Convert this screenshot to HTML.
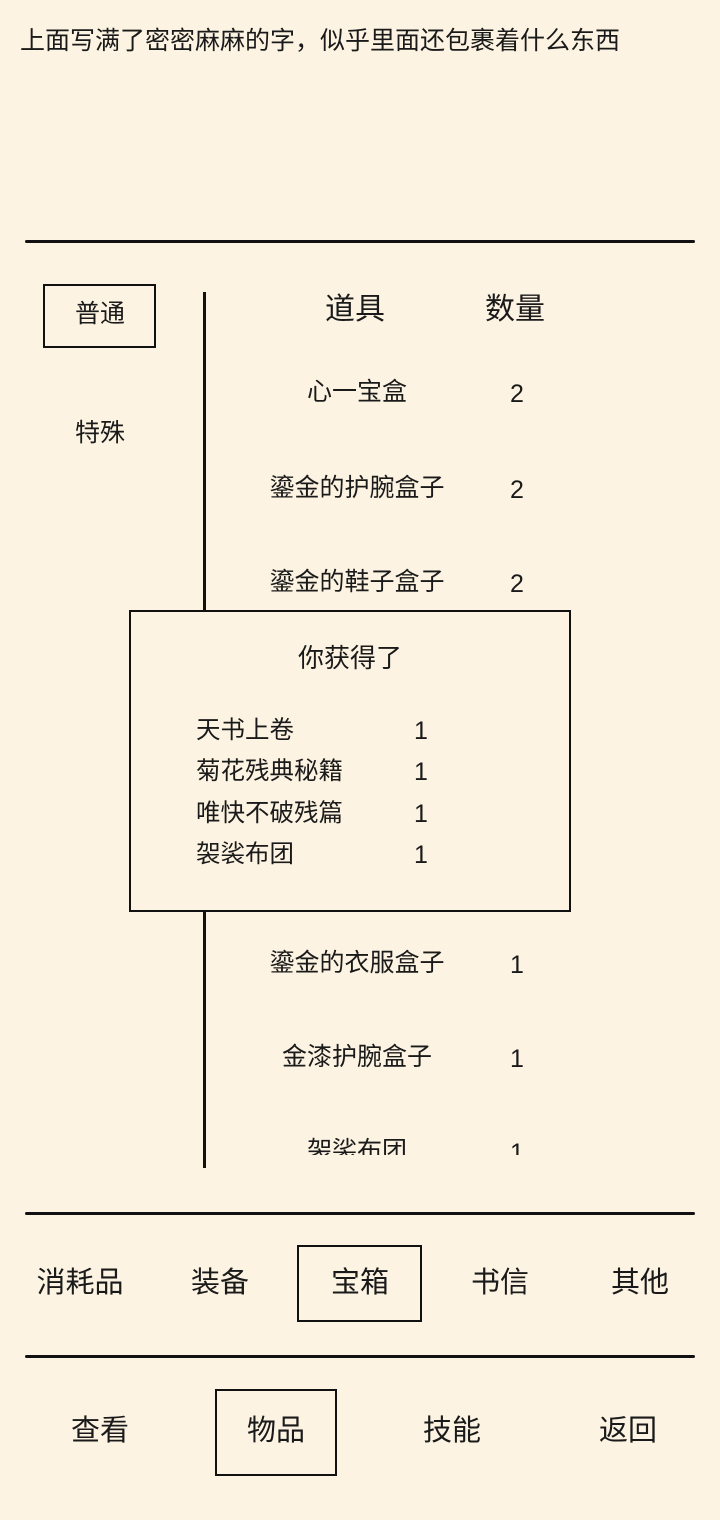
<!DOCTYPE html>
<html><head><meta charset="utf-8"><style>
body{margin:0;width:720px;height:1520px;background:#fcf3e2;position:relative;overflow:hidden;font-family:"Liberation Sans","Noto Sans CJK SC",sans-serif;color:#1a1a1a}
.t{position:absolute;white-space:nowrap;line-height:1}
.c{transform:translateX(-50%)}
.h{position:absolute;height:3px;background:#111;border-radius:2px}
.b{position:absolute;border:2.5px solid #111;box-sizing:border-box}
</style></head><body>
<div class="t" style="left:20px;top:29px;font-size:25px">上面写满了密密麻麻的字，似乎里面还包裹着什么东西</div>
<div class="h" style="left:25px;top:240px;width:670px"></div>
<div class="b" style="left:43px;top:284px;width:113px;height:64px"></div>
<div class="t c" style="left:100px;top:302px;font-size:25px">普通</div>
<div class="t c" style="left:100px;top:421px;font-size:25px">特殊</div>
<div style="position:absolute;left:203px;top:292px;width:2.5px;height:876px;background:#111"></div>
<div class="t c" style="left:355px;top:295px;font-size:30px">道具</div>
<div class="t c" style="left:515px;top:295px;font-size:30px">数量</div>
<div class="t c" style="left:357px;top:380px;font-size:25px">心一宝盒</div><div class="t c" style="left:517px;top:382px;font-size:25px">2</div>
<div class="t c" style="left:357px;top:476px;font-size:25px">鎏金的护腕盒子</div><div class="t c" style="left:517px;top:478px;font-size:25px">2</div>
<div class="t c" style="left:357px;top:570px;font-size:25px">鎏金的鞋子盒子</div><div class="t c" style="left:517px;top:572px;font-size:25px">2</div>
<div class="t c" style="left:357px;top:951px;font-size:25px">鎏金的衣服盒子</div><div class="t c" style="left:517px;top:953px;font-size:25px">1</div>
<div class="t c" style="left:357px;top:1045px;font-size:25px">金漆护腕盒子</div><div class="t c" style="left:517px;top:1047px;font-size:25px">1</div>
<div style="position:absolute;left:0;top:1130px;width:720px;height:25px;overflow:hidden">
<div class="t c" style="left:357px;top:9px;font-size:25px">袈裟布团</div><div class="t c" style="left:517px;top:11px;font-size:25px">1</div></div>
<div class="b" style="left:129px;top:610px;width:442px;height:302px;background:#fcf3e2"></div>
<div class="t c" style="left:350px;top:645px;font-size:26px">你获得了</div>
<div class="t" style="left:196px;top:719px;font-size:24.5px">天书上卷</div><div class="t" style="left:414px;top:719px;font-size:25px">1</div>
<div class="t" style="left:196px;top:760px;font-size:24.5px">菊花残典秘籍</div><div class="t" style="left:414px;top:760px;font-size:25px">1</div>
<div class="t" style="left:196px;top:802px;font-size:24.5px">唯快不破残篇</div><div class="t" style="left:414px;top:802px;font-size:25px">1</div>
<div class="t" style="left:196px;top:843px;font-size:24.5px">袈裟布团</div><div class="t" style="left:414px;top:843px;font-size:25px">1</div>
<div class="h" style="left:25px;top:1212px;width:670px"></div>
<div class="b" style="left:297px;top:1245px;width:125px;height:77px"></div>
<div class="t c" style="left:80px;top:1269px;font-size:29px">消耗品</div>
<div class="t c" style="left:220px;top:1269px;font-size:29px">装备</div>
<div class="t c" style="left:360px;top:1269px;font-size:29px">宝箱</div>
<div class="t c" style="left:500px;top:1269px;font-size:29px">书信</div>
<div class="t c" style="left:640px;top:1269px;font-size:29px">其他</div>
<div class="h" style="left:25px;top:1355px;width:670px"></div>
<div class="b" style="left:215px;top:1389px;width:122px;height:87px"></div>
<div class="t c" style="left:100px;top:1417px;font-size:29px">查看</div>
<div class="t c" style="left:276px;top:1417px;font-size:29px">物品</div>
<div class="t c" style="left:452px;top:1417px;font-size:29px">技能</div>
<div class="t c" style="left:628px;top:1417px;font-size:29px">返回</div>
</body></html>
